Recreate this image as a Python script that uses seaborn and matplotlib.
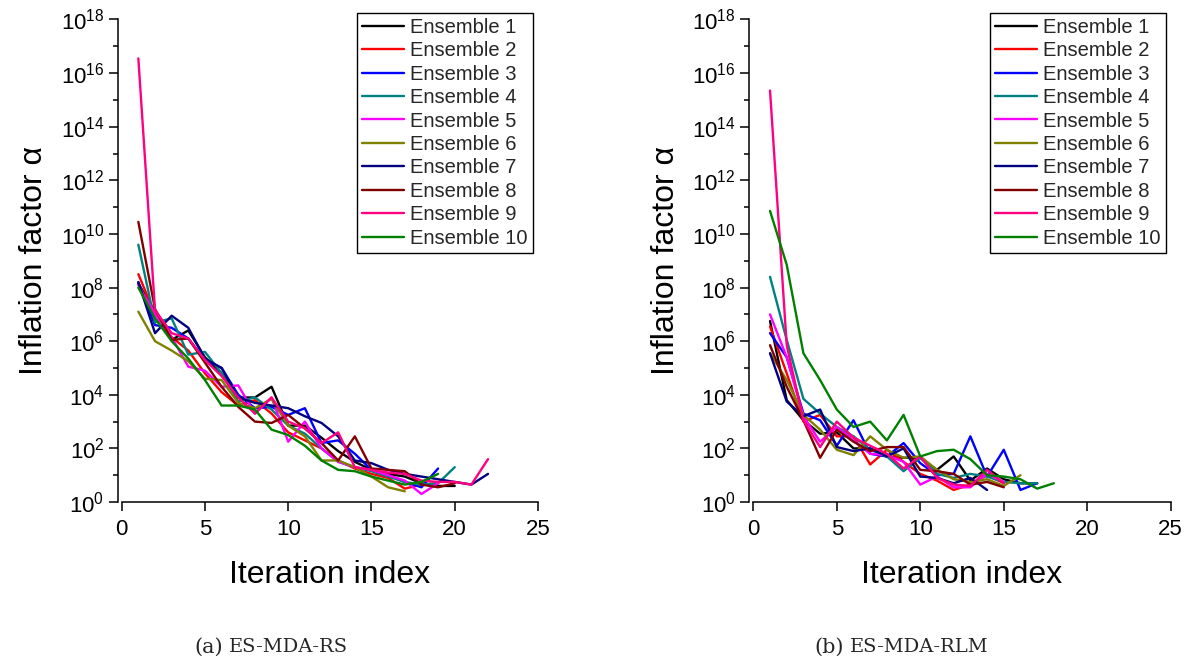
import numpy as np
import pandas as pd
import matplotlib
matplotlib.use("Agg")
import matplotlib.pyplot as plt
import seaborn as sns
from matplotlib.ticker import FixedLocator, FuncFormatter, NullFormatter
from matplotlib.lines import Line2D

# ---------------- data (log10 of inflation factor alpha) ----------------
labels = [f"Ensemble {i}" for i in range(1, 11)]
colors = ["#000000", "#FF0000", "#0000FF", "#008080", "#FF00FF",
          "#808000", "#000080", "#800000", "#FF0080", "#008000"]

# (a) ES-MDA-RS
rs_e1 = [8.15, 7.1, 6.05, 6.4, 5.4, 4.8, 3.9, 3.9, 4.3, 2.85, 2.85, 2.4, 1.9, 1.5, 1.2, 1.05, 0.95, 0.7, 0.6, 0.6]
rs_e2 = [8.5, 7.0, 6.15, 5.65, 4.8, 4.1, 3.6, 3.8, 3.3, 2.6, 2.3, 2.0, 1.55, 1.25, 1.05, 0.9, 0.5, 0.65, 0.7]
rs_e3 = [8.2, 6.6, 6.5, 6.1, 5.3, 5.0, 4.0, 3.5, 3.55, 3.25, 3.5, 2.2, 2.3, 1.8, 1.2, 1.0, 0.75, 0.55, 1.25]
rs_e4 = [9.6, 6.7, 6.85, 5.5, 5.6, 4.8, 3.75, 3.9, 3.45, 2.85, 2.55, 2.0, 1.5, 1.3, 1.15, 0.95, 0.75, 0.65, 0.7, 1.3]
rs_e5 = [8.1, 7.0, 6.15, 5.05, 4.9, 4.3, 4.35, 3.3, 3.9, 2.25, 3.0, 2.0, 1.5, 1.3, 1.2, 1.0, 0.8, 0.3, 0.7]
rs_e6 = [7.1, 6.0, 5.65, 5.25, 4.6, 4.55, 3.7, 3.5, 3.85, 2.85, 2.45, 1.55, 1.55, 1.3, 0.95, 0.55, 0.4]
rs_e7 = [8.2, 6.3, 6.95, 6.5, 5.35, 5.0, 3.9, 3.7, 3.6, 3.5, 3.2, 2.95, 2.45, 1.55, 1.45, 1.2, 1.05, 0.95, 0.85, 0.75, 0.65, 1.05]
rs_e8 = [10.45, 7.2, 6.05, 6.1, 5.2, 4.3, 3.55, 3.0, 2.95, 3.25, 2.75, 2.2, 1.55, 2.45, 1.25, 1.2, 1.15, 0.65, 0.55, 0.7]
rs_e9 = [16.55, 7.16, 6.3, 6.1, 5.3, 4.7, 3.9, 3.3, 3.9, 3.0, 2.75, 2.2, 2.6, 1.3, 1.2, 1.1, 1.05, 0.8, 0.75, 0.75, 0.65, 1.6]
rs_e10 = [8.0, 6.85, 6.0, 5.35, 4.55, 3.6, 3.6, 3.45, 2.7, 2.5, 2.1, 1.55, 1.2, 1.15, 0.95, 0.8, 0.65, 0.75, 1.05]

# (b) ES-MDA-RLM
rlm_e1 = [6.75, 3.8, 3.05, 2.55, 2.6, 2.0, 2.0, 1.7, 1.65, 1.65, 1.2, 1.7, 0.8, 1.25, 0.85, 0.7, 0.7]
rlm_e2 = [6.55, 4.8, 3.0, 3.25, 2.45, 2.45, 1.4, 1.95, 1.5, 1.05, 0.8, 0.45, 0.65, 1.0, 0.7]
rlm_e3 = [6.3, 5.4, 3.3, 3.05, 2.1, 3.05, 1.8, 1.7, 2.2, 1.45, 1.0, 1.05, 2.45, 0.95, 1.95, 0.45, 0.7]
rlm_e4 = [8.4, 6.05, 3.85, 3.3, 2.8, 2.45, 1.95, 1.7, 1.15, 1.65, 1.05, 0.9, 1.05, 0.95, 0.75, 0.7, 0.7]
rlm_e5 = [7.0, 5.4, 3.2, 2.25, 2.8, 2.3, 1.8, 1.75, 1.5, 0.65, 0.95, 0.55, 0.55, 1.05, 0.75]
rlm_e6 = [5.55, 4.55, 3.25, 2.7, 1.95, 1.75, 2.45, 1.95, 1.65, 1.7, 1.2, 0.85, 0.75, 0.85, 0.6, 1.0]
rlm_e7 = [5.55, 3.75, 3.2, 3.45, 2.05, 1.9, 2.0, 1.7, 2.0, 0.95, 0.9, 0.7, 0.9, 0.45]
rlm_e8 = [5.85, 4.3, 3.05, 1.65, 2.7, 2.25, 1.9, 2.05, 2.05, 1.2, 1.15, 1.05, 0.65, 0.75, 0.55]
rlm_e9 = [15.35, 5.85, 3.05, 2.05, 3.0, 2.4, 2.1, 1.8, 1.25, 1.7, 0.9, 0.65, 0.6, 1.2, 0.7]
rlm_e10 = [10.86, 8.85, 5.55, 4.55, 3.45, 2.8, 3.0, 2.3, 3.25, 1.7, 1.9, 1.95, 1.6, 1.0, 0.95, 0.85, 0.5, 0.7]

rs_series = [rs_e1, rs_e2, rs_e3, rs_e4, rs_e5, rs_e6, rs_e7, rs_e8, rs_e9, rs_e10]
rlm_series = [rlm_e1, rlm_e2, rlm_e3, rlm_e4, rlm_e5, rlm_e6, rlm_e7, rlm_e8, rlm_e9, rlm_e10]

x_ticks = [0, 5, 10, 15, 20, 25]
y_major_exp = [0, 2, 4, 6, 8, 10, 12, 14, 16, 18]
y_minor_exp = [1, 3, 5, 7, 9, 11, 13, 15, 17]
captions = [("(a)", "ES-MDA-RS"), ("(b)", "ES-MDA-RLM")]
caption_x = [(0.186, 0.191), (0.704, 0.709)]


def to_frame(series):
    rows = []
    for lab, vals in zip(labels, series):
        for i, v in enumerate(vals, start=1):
            rows.append({"Iteration": i, "alpha": 10.0 ** v, "Ensemble": lab})
    return pd.DataFrame(rows)


sns.set_theme(style="ticks")
plt.rcParams["font.family"] = ["Liberation Sans", "DejaVu Sans"]
plt.rcParams["mathtext.fontset"] = "custom"
plt.rcParams["mathtext.rm"] = "Liberation Sans"

fig = plt.figure(figsize=(11.99, 6.61), dpi=100)
ax_pos = [[0.1015, 0.2405, 0.3472, 0.730], [0.6283, 0.2405, 0.3481, 0.730]]
palette = dict(zip(labels, colors))

for k, series in enumerate([rs_series, rlm_series]):
    ax = fig.add_axes(ax_pos[k])
    df = to_frame(series)
    sns.lineplot(data=df, x="Iteration", y="alpha", hue="Ensemble", hue_order=labels,
                 palette=palette, estimator=None, sort=False, linewidth=1.7, ax=ax,
                 legend=False)
    ax.set_yscale("log")
    ax.set_xlim(0, 25)
    ax.set_ylim(1, 1e18)
    ax.xaxis.set_major_locator(FixedLocator(x_ticks))
    ax.yaxis.set_major_locator(FixedLocator([10.0 ** e for e in y_major_exp]))
    ax.yaxis.set_minor_locator(FixedLocator([10.0 ** e for e in y_minor_exp]))
    ax.yaxis.set_major_formatter(FuncFormatter(
        lambda v, p: r"$\mathregular{10^{%d}}$" % int(round(np.log10(v)))))
    ax.yaxis.set_minor_formatter(NullFormatter())
    ax.tick_params(axis="both", which="major", labelsize=16, length=6.5, width=1.1,
                   color="black", labelcolor="black", direction="out")
    ax.tick_params(axis="y", which="minor", length=3.5, width=1.1, color="black")
    ax.tick_params(axis="x", which="major", pad=6)
    ax.tick_params(axis="y", which="major", pad=3)
    for s in ["top", "right"]:
        ax.spines[s].set_visible(False)
    for s in ["left", "bottom"]:
        ax.spines[s].set_color("black")
        ax.spines[s].set_linewidth(1.1)
    ax.spines["left"].set_position(("outward", 3))
    ax.set_xlabel("Iteration index", fontsize=23, labelpad=14, color="black")
    ax.set_ylabel("Inflation factor \u03b1", fontsize=23, labelpad=8, color="black")

    handles = [Line2D([], [], color=c, lw=1.7) for c in colors]
    leg = ax.legend(handles, labels, loc="upper right", bbox_to_anchor=(0.988, 1.014),
                    borderaxespad=0, fontsize=14.5, frameon=True, fancybox=False,
                    edgecolor="black", framealpha=1, handlelength=2.1,
                    handletextpad=0.3, labelspacing=0.22, borderpad=0.25)
    leg.get_frame().set_linewidth(1.0)

    fig.text(caption_x[k][0], 0.021, captions[k][0], fontsize=15, family="DejaVu Serif",
             ha="right", va="center")
    fig.text(caption_x[k][1], 0.021, captions[k][1], fontsize=14, family="DejaVu Serif",
             ha="left", va="center")

fig.savefig("out.png", dpi=100)
